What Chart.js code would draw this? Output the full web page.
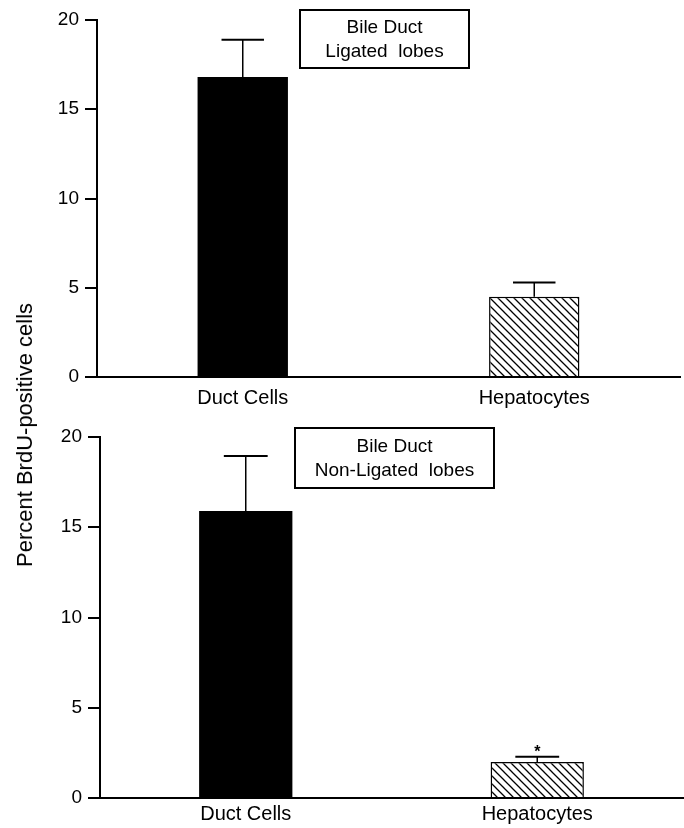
<!DOCTYPE html>
<html>

<head>
  <title>BrdU-positive cells</title>
  <script src="https://cdn.jsdelivr.net/npm/chart.js"></script>
  <style>
    body { margin: 0; background: #fff; }
    #wrap { position: relative; width: 684px; height: 828px; }
    canvas { position: absolute; left: 0; }
    #yTitle {
      position: absolute; left: 25px; top: 435px;
      transform: translate(-50%, -50%) rotate(-90deg);
      font: 22px "Liberation Sans", Arial, sans-serif; color: #000;
      white-space: nowrap;
    }
  </style>
</head>

<body>
  <div id="wrap">
    <canvas id="topChart" width="684" height="412" style="top:0"></canvas>
    <canvas id="bottomChart" width="684" height="416" style="top:412px"></canvas>
    <div id="yTitle">Percent BrdU-positive cells</div>
  </div>
  <script>
    // values
    var categories = ['Duct Cells', 'Hepatocytes'];
    var ligatedMeans = [16.8, 4.5];
    var ligatedErrors = [2.1, 0.8];
    var nonLigatedMeans = [15.9, 2.0];
    var nonLigatedErrors = [3.05, 0.28];
    var nonLigatedMarks = ['', '*'];
    var yMin = 0, yMax = 20, yStep = 5;

    var FONT = '"Liberation Sans", Arial, sans-serif';
    var INK = '#000';

    // diagonal hatch for the hepatocyte bars
    function hatch() {
      var c = document.createElement('canvas');
      c.width = 8; c.height = 8;
      var g = c.getContext('2d');
      g.fillStyle = '#fff';
      g.fillRect(0, 0, 8, 8);
      g.strokeStyle = INK;
      g.lineWidth = 1.3;
      g.beginPath();
      g.moveTo(0, 0); g.lineTo(8, 8);
      g.moveTo(-1, 7); g.lineTo(1, 9);
      g.moveTo(7, -1); g.lineTo(9, 1);
      g.stroke();
      return g.createPattern(c, 'repeat');
    }

    // upper error bars, marks and the label box
    var extras = {
      id: 'extras',
      afterDatasetsDraw: function (chart) {
        var o = chart.options.plugins.extras;
        var ctx = chart.ctx;
        var y = chart.scales.y;
        var meta = chart.getDatasetMeta(0);
        var vals = chart.data.datasets[0].data;
        ctx.save();
        ctx.strokeStyle = INK;
        meta.data.forEach(function (bar, i) {
          var yb = y.getPixelForValue(vals[i]);
          var yt = y.getPixelForValue(vals[i] + o.errors[i]);
          var half = bar.width * 0.235;
          ctx.lineWidth = 1.5;
          ctx.beginPath();
          ctx.moveTo(bar.x, yb); ctx.lineTo(bar.x, yt);
          ctx.stroke();
          ctx.lineWidth = 2;
          ctx.beginPath();
          ctx.moveTo(bar.x - half, yt); ctx.lineTo(bar.x + half, yt);
          ctx.stroke();
          if (o.marks && o.marks[i]) {
            ctx.fillStyle = INK;
            ctx.font = 'bold 16px ' + FONT;
            ctx.textAlign = 'center';
            ctx.textBaseline = 'middle';
            ctx.fillText(o.marks[i], bar.x, yt - 4);
          }
        });
        // label box
        var a = chart.chartArea;
        var b = o.box;
        var bx = a.left + b.dx, by = a.top + b.dy;
        ctx.lineWidth = 2;
        ctx.strokeRect(bx, by, b.w, b.h);
        ctx.fillStyle = INK;
        ctx.font = '19px ' + FONT;
        ctx.textAlign = 'center';
        ctx.textBaseline = 'middle';
        ctx.fillText(b.lines[0], bx + b.w / 2, by + b.h * 0.31);
        ctx.fillText(b.lines[1], bx + b.w / 2, by + b.h * 0.72);
        ctx.restore();
      }
    };

    function makeChart(id, means, errors, marks, box, yWidth, xHeight, xPad, pad, barPct) {
      var ctx = document.getElementById(id).getContext('2d');
      return new Chart(ctx, {
        type: 'bar',
        data: {
          labels: categories,
          datasets: [{
            data: means,
            backgroundColor: [INK, hatch()],
            borderColor: INK,
            borderWidth: [0, 1.5],
            categoryPercentage: 1,
            barPercentage: barPct
          }]
        },
        options: {
          responsive: false,
          animation: false,
          events: [],
          layout: { padding: pad },
          plugins: {
            legend: { display: false },
            tooltip: { enabled: false },
            extras: { errors: errors, marks: marks, box: box }
          },
          scales: {
            x: {
              afterFit: function (s) { s.height = xHeight; },
              grid: { display: true, drawOnChartArea: false, drawTicks: false },
              border: { display: true, color: INK, width: 2 },
              ticks: { color: INK, padding: xPad, font: { family: FONT, size: 20 } }
            },
            y: {
              min: yMin,
              max: yMax,
              afterFit: function (s) { s.width = yWidth; },
              grid: { display: true, drawOnChartArea: false, drawTicks: true, tickLength: 12, color: INK, lineWidth: 2 },
              border: { display: true, color: INK, width: 2 },
              ticks: { stepSize: yStep, color: INK, padding: 6, font: { family: FONT, size: 19 } }
            }
          }
        },
        plugins: [extras]
      });
    }

    makeChart('topChart', ligatedMeans, ligatedErrors, null,
      { dx: 203, dy: -10, w: 169, h: 58, lines: ['Bile Duct', 'Ligated  lobes'] },
      97, 35, 9, { top: 20, right: 4, bottom: 0, left: 0 }, 0.31);

    makeChart('bottomChart', nonLigatedMeans, nonLigatedErrors, nonLigatedMarks,
      { dx: 195, dy: -9, w: 199, h: 60, lines: ['Bile Duct', 'Non-Ligated  lobes'] },
      100, 30, 4, { top: 25, right: 1, bottom: 0, left: 0 }, 0.32);
  </script>
</body>

</html>
